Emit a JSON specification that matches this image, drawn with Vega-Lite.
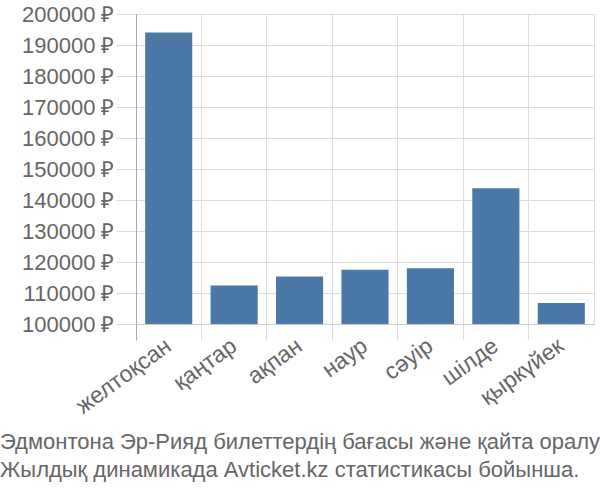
{
  "$schema": "https://vega.github.io/schema/vega-lite/v6.json",
  "width": 458,
  "height": 310,
  "autosize": "none",
  "padding": {"left": 136, "top": 14, "right": 6, "bottom": 176},
  "background": "white",
  "config": {
    "font": "Liberation Sans",
    "view": {"stroke": "#dddddd", "strokeWidth": 1}
  },
  "title": {
    "text": ["Эдмонтона Эр-Рияд билеттердің бағасы және қайта оралу", "Жылдық динамикада Avticket.kz статистикасы бойынша."],
    "orient": "bottom",
    "anchor": "start",
    "frame": "group",
    "dx": -136,
    "offset": 14,
    "fontSize": 22,
    "fontWeight": "normal",
    "color": "#666666",
    "lineHeight": 28
  },
  "data": {
    "values": [
      {"month": "желтоқсан", "price": 194000},
      {"month": "қаңтар", "price": 112400},
      {"month": "ақпан", "price": 115300},
      {"month": "наур", "price": 117500},
      {"month": "сәуір", "price": 118000},
      {"month": "шілде", "price": 143800},
      {"month": "қыркүйек", "price": 106800}
    ]
  },
  "mark": {"type": "bar", "color": "#4c78a8", "width": {"band": 0.72}},
  "encoding": {
    "x": {
      "field": "month",
      "type": "nominal",
      "sort": null,
      "scale": {"paddingInner": 0, "paddingOuter": 0},
      "axis": {
        "title": null,
        "bandPosition": 0,
        "grid": true,
        "gridColor": "#dddddd",
        "tickColor": {"condition": {"test": "datum.value === 'желтоқсан'", "value": "#aaaaaa"}, "value": "#dddddd"},
        "tickSize": 16,
        "domainColor": "#cccccc",
        "labelAngle": -36,
        "labelAlign": "right",
        "labelBaseline": "middle",
        "labelFontSize": 23,
        "labelColor": "#666666",
        "labelPadding": 3
      }
    },
    "y": {
      "field": "price",
      "type": "quantitative",
      "scale": {"domain": [100000, 200000], "zero": false, "nice": false},
      "axis": {
        "title": null,
        "values": [100000, 110000, 120000, 130000, 140000, 150000, 160000, 170000, 180000, 190000, 200000],
        "labelExpr": "format(datum.value, 'd') + ' ₽'",
        "grid": true,
        "gridColor": "#dddddd",
        "tickColor": "#dddddd",
        "tickSize": 20,
        "domainColor": "#aaaaaa",
        "labelFontSize": 22,
        "labelColor": "#666666",
        "labelPadding": 2
      }
    },
    "y2": {"datum": 100000}
  }
}
